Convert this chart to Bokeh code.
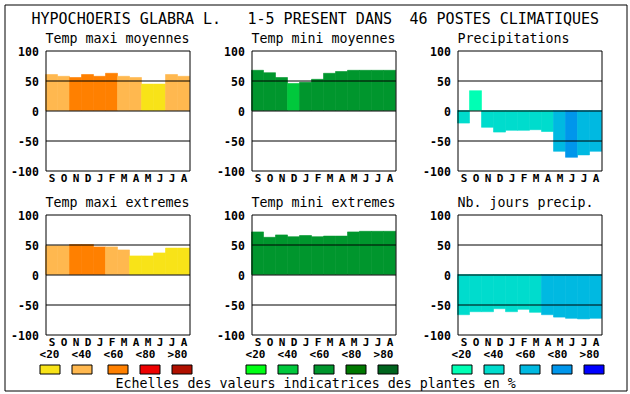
from bokeh.plotting import figure
from bokeh.models import Range1d
from bokeh.core.properties import value
from bokeh.embed import file_html
from bokeh.resources import INLINE

# ---------------- data ----------------
months = ["S", "O", "N", "D", "J", "F", "M", "A", "M", "J", "J", "A"]
y_ticks = [-100, -50, 0, 50, 100]
y_tick_labels = ["-100", "-50", "0", "50", "100"]
legend_labels = ["<20", "<40", "<60", "<80", ">80"]

title_species = "HYPOCHOERIS GLABRA L."
title_presence = "1-5 PRESENT DANS"
title_stations = "46 POSTES CLIMATIQUES"
footer = "Echelles des valeurs indicatrices des plantes en %"

tmax_moy = [60, 57, 55, 60, 57, 62, 57, 55, 44, 44, 60, 57]
tmax_moy_cls = [1, 1, 2, 2, 2, 2, 1, 1, 0, 0, 1, 1]

tmin_moy = [67, 63, 55, 45, 47, 52, 62, 65, 67, 67, 67, 67]
tmin_moy_cls = [2, 2, 2, 1, 2, 2, 2, 2, 2, 2, 2, 2]

precip = [-21, 33, -28, -36, -33, -33, -32, -35, -68, -78, -74, -68]
precip_cls = [1, 0, 1, 1, 1, 1, 1, 1, 2, 3, 2, 2]

tmax_ext = [48, 48, 50, 50, 46, 46, 41, 31, 31, 36, 44, 44]
tmax_ext_cls = [1, 1, 2, 2, 2, 1, 1, 0, 0, 0, 0, 0]

tmin_ext = [71, 62, 66, 63, 65, 63, 64, 64, 71, 72, 72, 72]
tmin_ext_cls = [2, 2, 2, 2, 2, 2, 2, 2, 2, 2, 2, 2]

njours = [-67, -62, -62, -57, -62, -58, -63, -67, -71, -73, -74, -73]
njours_cls = [1, 1, 1, 1, 1, 1, 1, 2, 2, 2, 2, 2]

warm_palette = ["#F8E318", "#FFB84F", "#FF8000", "#EE0000", "#B01000"]
green_palette = ["#00FF14", "#00C83C", "#00962D", "#007800", "#00641E"]
blue_palette = ["#00FFB4", "#00DCCD", "#00B9E1", "#0096EB", "#0000FF"]

MONO = value("DejaVu Sans Mono")

# ---------------- canvas (page pixel coordinates) ----------------
p = figure(width=630, height=394, x_range=Range1d(0, 630), y_range=Range1d(394, 0),
           min_border=0, toolbar_location=None, output_backend="svg",
           x_axis_type=None, y_axis_type=None)
p.grid.visible = False
p.outline_line_color = None
p.background_fill_color = "white"
p.border_fill_color = "white"

# outer frame
p.quad(left=[4.5], right=[626.5], top=[4.5], bottom=[390.5],
       fill_color=None, line_color="black", line_width=1)

# main title
for txt, tx in [(title_species, 31), (title_presence, 247), (title_stations, 409)]:
    p.text(x=[tx], y=[18], text=[txt], text_font=MONO, text_font_size="15px",
           text_align="left", text_baseline="middle", text_color="black")

panels = [
    ("Temp maxi moyennes", tmax_moy, tmax_moy_cls, warm_palette, 45, 50),
    ("Temp mini moyennes", tmin_moy, tmin_moy_cls, green_palette, 251, 50),
    ("Precipitations", precip, precip_cls, blue_palette, 457, 50),
    ("Temp maxi extremes", tmax_ext, tmax_ext_cls, warm_palette, 45, 214),
    ("Temp mini extremes", tmin_ext, tmin_ext_cls, green_palette, 251, 214),
    ("Nb. jours precip.", njours, njours_cls, blue_palette, 457, 214),
]

xs = [i + 0.5 for i in range(len(months))]

for (name, vals, cls, pal, left, top) in panels:
    bars = p.subplot(x_source=Range1d(0, 12), y_source=Range1d(-100, 100),
                     x_target=Range1d(left, left + 144), y_target=Range1d(top + 120, top))
    lines = p.subplot(x_source=Range1d(0, 12), y_source=Range1d(-100, 100),
                      x_target=Range1d(left + 0.5, left + 144.5),
                      y_target=Range1d(top + 120.5, top + 0.5))
    cols = [pal[c] for c in cls]
    bars.vbar(x=xs, width=1, bottom=0, top=vals,
              fill_color=cols, line_color=cols, line_width=0.6)
    lines.segment(x0=[0, 0, 0], x1=[12, 12, 12], y0=[-50, 0, 50], y1=[-50, 0, 50],
                  line_color="black", line_width=1)
    lines.quad(left=[0], right=[12], bottom=[-100], top=[100],
               fill_color=None, line_color="black", line_width=1)
    lines.text(x=[-0.6] * len(y_ticks), y=y_ticks, text=y_tick_labels,
               text_font=MONO, text_font_style="bold", text_font_size="11.5px",
               text_align="right", text_baseline="middle", text_color="black")
    my = -112.5 if top < 100 else -111.7
    lines.text(x=xs, y=[my] * len(months), text=months,
               text_font=MONO, text_font_style="bold", text_font_size="11px",
               text_align="center", text_baseline="middle", text_color="black")
    mid = top - 11.7 if top < 100 else top - 12.3
    p.text(x=[left], y=[mid], text=[name], text_font=MONO, text_font_size="13.3px",
           text_align="left", text_baseline="middle", text_color="black")

# legends under each column
swatch_off = [-6, 26, 62, 94, 126]
label_off = [4, 36, 68, 100, 132]
for pal, left in [(warm_palette, 45), (green_palette, 251), (blue_palette, 457)]:
    p.quad(left=[left + o + 0.5 for o in swatch_off],
           right=[left + o + 20.5 for o in swatch_off],
           top=[364.5] * 5, bottom=[373.5] * 5,
           fill_color=pal, line_color="black", line_width=1)
    p.text(x=[left + o for o in label_off], y=[354] * 5, text=legend_labels,
           text_font=MONO, text_font_style="bold", text_font_size="11px",
           text_align="center", text_baseline="middle", text_color="black")

p.text(x=[115], y=[382.5], text=[footer], text_font=MONO, text_font_size="13.3px",
       text_align="left", text_baseline="middle", text_color="black")

open("out.html", "w").write(file_html(p, INLINE))
